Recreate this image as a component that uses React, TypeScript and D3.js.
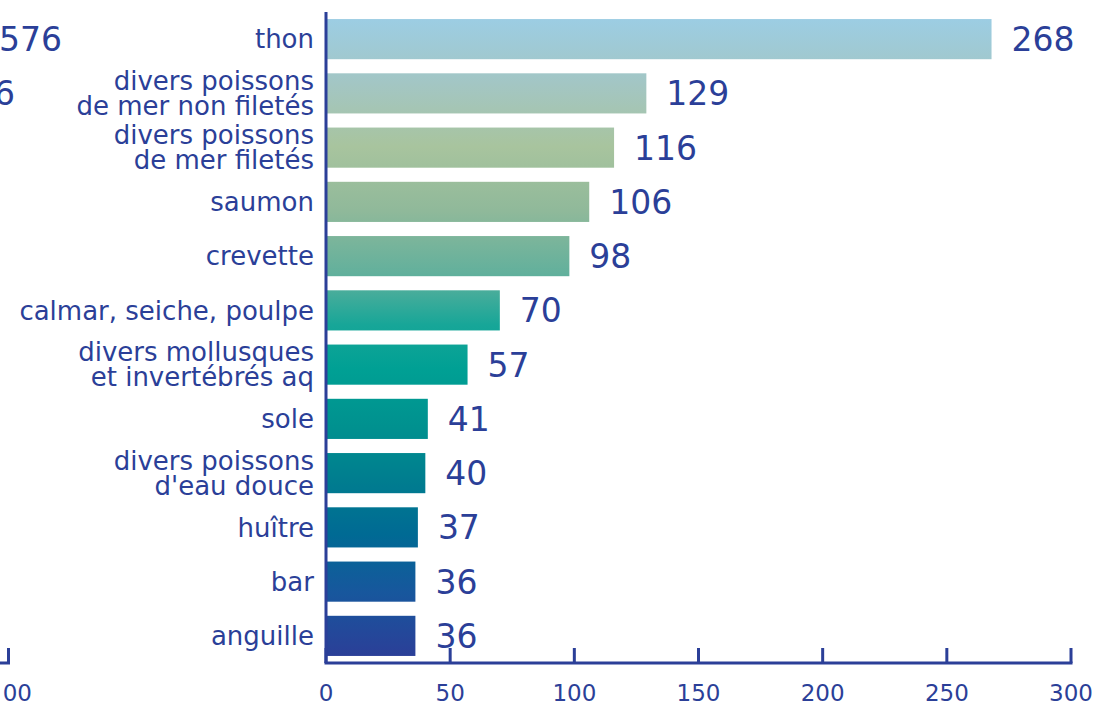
import React from "react";
import * as d3 from "d3";

const categories = [
  "thon",
  "divers poissons\nde mer non filetés",
  "divers poissons\nde mer filetés",
  "saumon",
  "crevette",
  "calmar, seiche, poulpe",
  "divers mollusques\net invertébrés aq",
  "sole",
  "divers poissons\nd'eau douce",
  "huître",
  "bar",
  "anguille",
];
const values = [268, 129, 116, 106, 98, 70, 57, 41, 40, 37, 36, 36];
const xTicks = [0, 50, 100, 150, 200, 250, 300];
const leftPanelLabels = ["576", "6"];
const leftPanelTick = "00";

const gradStops: [number, string][] = [
  [0, "#9ccde3"],
  [0.1, "#a3c6c4"],
  [0.2, "#a8c49e"],
  [0.3, "#90b99a"],
  [0.4, "#62b09c"],
  [0.48, "#17a698"],
  [0.55, "#00a094"],
  [0.64, "#00918f"],
  [0.72, "#007e8f"],
  [0.81, "#006a94"],
  [0.9, "#17579d"],
  [1, "#2b3f98"],
];

const W = 1097;
const H = 704;
const INK = "#2b3f98";
const FONT = "'DejaVu Sans', sans-serif";

export default function App() {
  const x = d3.scaleLinear().domain([0, 300]).range([326, 1071]);
  const y = d3
    .scaleBand<string>()
    .domain(categories)
    .range([12, 663])
    .paddingInner(0.26)
    .paddingOuter(0.13);
  const axisY = 663;
  const yTop = y(categories[0])!;
  const yBot = y(categories[categories.length - 1])! + y.bandwidth();

  return (
    <svg
      width={W}
      height={H}
      style={{ position: "absolute", left: 0, top: 0, background: "#fff" }}
      fontFamily={FONT}
    >
      <defs>
        <linearGradient id="barGrad" gradientUnits="userSpaceOnUse" x1={0} x2={0} y1={yTop} y2={yBot}>
          {gradStops.map(([o, c], i) => (
            <stop key={i} offset={o} stopColor={c} />
          ))}
        </linearGradient>
      </defs>

      {/* partial left panel */}
      {leftPanelLabels.map((t, i) => (
        <text
          key={t}
          x={i === 0 ? 62 : 15}
          y={y(categories[i])! + y.bandwidth() / 2}
          dy="0.36em"
          textAnchor="end"
          fontSize={33}
          fill={INK}
        >
          {t}
        </text>
      ))}
      <path d={`M-2,${axisY} H8.5 V648`} fill="none" stroke={INK} strokeWidth={3} />
      <text x={32} y={701} textAnchor="end" fontSize={23} fill={INK}>
        {leftPanelTick}
      </text>

      {/* bars */}
      {categories.map((c, i) => (
        <rect
          key={c}
          x={x(0)}
          y={y(c)!}
          width={x(values[i]) - x(0)}
          height={y.bandwidth()}
          fill="url(#barGrad)"
        />
      ))}

      {/* value labels */}
      {categories.map((c, i) => (
        <text
          key={c}
          x={x(values[i]) + 20}
          y={y(c)! + y.bandwidth() / 2}
          dy="0.36em"
          fontSize={33}
          fill={INK}
        >
          {values[i]}
        </text>
      ))}

      {/* category labels */}
      {categories.map((c) => {
        const lines = c.split("\n");
        const cy = y(c)! + y.bandwidth() / 2;
        const lh = 25;
        return (
          <text key={c} x={314} textAnchor="end" fontSize={26} fill={INK}>
            {lines.map((l, j) => (
              <tspan key={j} x={314} y={cy + (j - (lines.length - 1) / 2) * lh} dy="0.36em">
                {l}
              </tspan>
            ))}
          </text>
        );
      })}

      {/* axes */}
      <line x1={x(0)} x2={x(0)} y1={12} y2={axisY} stroke={INK} strokeWidth={3} />
      <line x1={x(0) - 1.5} x2={x(300) + 1.5} y1={axisY} y2={axisY} stroke={INK} strokeWidth={3} />
      {xTicks.map((t) => (
        <g key={t}>
          <line x1={x(t)} x2={x(t)} y1={648} y2={axisY} stroke={INK} strokeWidth={3} />
          <text x={x(t)} y={701} textAnchor="middle" fontSize={23} fill={INK}>
            {t}
          </text>
        </g>
      ))}
    </svg>
  );
}
